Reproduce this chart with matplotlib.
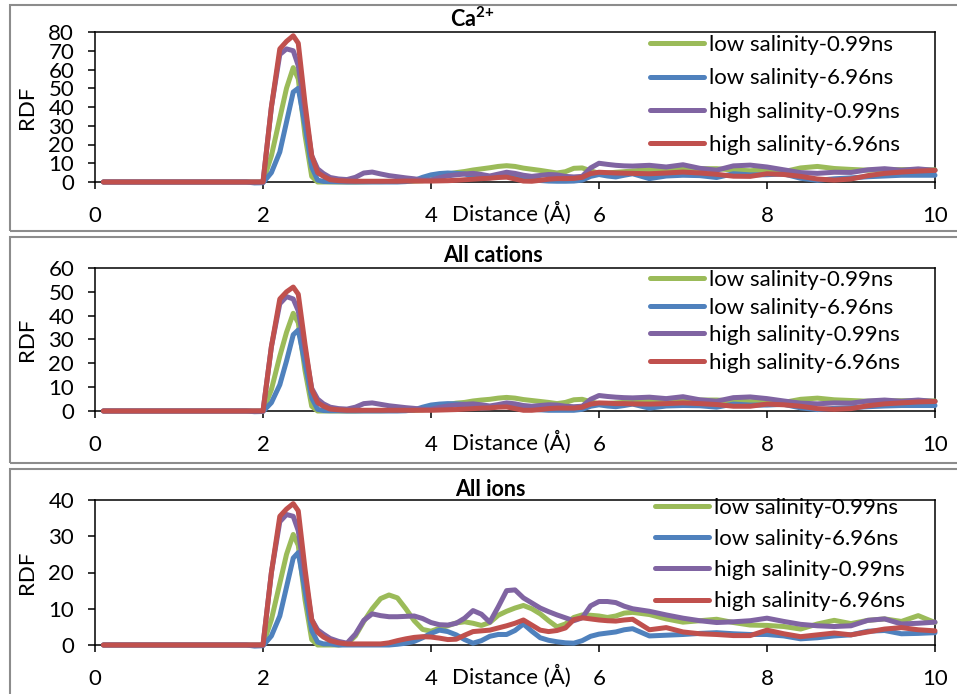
import matplotlib
matplotlib.use('Agg')
import matplotlib.pyplot as plt
from matplotlib.patches import Rectangle
import matplotlib.transforms as mtransforms

plt.rcParams['font.family'] = ['Lato', 'DejaVu Sans']
plt.rcParams['mathtext.fontset'] = 'custom'
plt.rcParams['mathtext.rm'] = 'Lato'
plt.rcParams['mathtext.bf'] = 'Lato:bold'

# ---------------- data ----------------
distance = [0.1, 0.5, 1.0, 1.5, 1.8, 1.9, 2.0, 2.1, 2.2, 2.28, 2.36, 2.42, 2.5, 2.58, 2.65, 2.72,
            2.8, 2.9, 3.0, 3.1, 3.2, 3.3, 3.4, 3.5, 3.6, 3.7, 3.8, 3.9, 4.0, 4.1, 4.2, 4.3, 4.4,
            4.5, 4.6, 4.7, 4.8, 4.9, 5.0, 5.1, 5.2, 5.3, 5.4, 5.5, 5.6, 5.7, 5.8, 5.9, 6.0, 6.1,
            6.2, 6.3, 6.4,
            6.6, 6.8, 7.0, 7.2, 7.4, 7.6, 7.8, 8.0, 8.2, 8.4, 8.6, 8.8, 9.0, 9.2, 9.4, 9.6, 9.8, 10.0]

series_labels = ['low salinity-0.99ns', 'low salinity-6.96ns',
                 'high salinity-0.99ns', 'high salinity-6.96ns']

# Ca2+
ca_low_099 = [0, 0, 0, 0, 0, 0, 0, 14, 34, 50, 61, 55, 25, 3, 0, 0,
              0, 0, 0, 0, 0.1, 0.2, 0.2, 0.3, 0.3, 0.4, 0.5, 0.7, 1.2, 2.8, 4.2, 5.0, 5.6, 6.4, 7.0,
              7.6, 8.3, 8.7, 8.3, 7.4, 6.8, 6.2, 5.5, 4.8, 5.5, 7.3, 7.5, 6.0, 4.6, 4.8, 5.2, 5.5, 5.9,
              6.6, 6.9, 7.1, 7.1, 7.1, 6.4, 6.0, 6.6, 5.5, 7.5, 8.3, 7.2, 6.7, 6.3, 6.4, 6.6, 6.6, 6.5]
ca_low_696 = [0, 0, 0, 0, 0, -0.5, -0.4, 5, 16, 32, 48, 50, 30, 8, 1, 0.3,
              0.2, 0.1, 0, 0, 0, 0, 0, 0, 0, 0.2, 0.8, 2.5, 3.8, 4.5, 4.8, 4.6, 4.3, 3.0, 1.8, 2.2,
              3.0, 3.6, 3.0, 2.0, 1.2, 0.8, 0.5, 0.4, 0.4, 0.5, 1.0, 3.0, 4.0, 3.2, 2.7, 3.6, 4.4,
              1.8, 3.2, 3.6, 3.4, 2.4, 4.4, 3.8, 3.9, 4.3, 2.0, 0.9, 1.7, 2.2, 2.8, 3.2, 3.6, 3.6, 3.6]
ca_high_099 = [0, 0, 0, 0, 0, 0, 0, 40, 68, 71, 70, 62, 38, 14, 7, 4.5,
               2.4, 1.6, 1.3, 2.5, 4.8, 5.3, 4.3, 3.4, 2.8, 2.2, 1.7, 1.0, 1.0, 2.3, 3.3, 3.8, 4.3,
               4.6, 4.0, 3.2, 4.2, 5.2, 4.6, 3.6, 3.0, 3.5, 4.0, 3.8, 3.0, 2.7, 3.0, 7.5, 10.0, 9.4,
               8.9, 8.6, 8.5,
               8.9, 8.0, 9.2, 7.3, 6.3, 8.6, 9.0, 8.0, 6.5, 5.0, 4.6, 5.2, 5.1, 6.5, 7.1, 6.3, 7.0, 6.2]
ca_high_696 = [0, 0, 0, 0, 0, 0, 0, 40, 71, 75, 78, 74, 42, 14, 5, 3,
               1.2, 0.7, 0.5, 0.4, 0.4, 0.4, 0.4, 0.4, 0.4, 0.5, 0.5, 0.5, 0.5, 0.6, 0.7, 0.9, 1.2,
               1.5, 1.8, 2.0, 2.4, 2.6, 1.6, 0.5, 0.4, 0.9, 1.5, 1.8, 1.8, 1.9, 2.5, 4.5, 5.2, 5.0,
               4.8, 4.7, 4.6,
               4.4, 4.8, 5.3, 4.8, 4.1, 3.1, 3.0, 4.4, 4.0, 3.0, 1.6, 1.0, 1.6, 3.4, 4.6, 5.3, 5.8, 6.2]

# All cations
cat_low_099 = [0, 0, 0, 0, 0, 0, 0, 9, 23, 33, 41, 37, 17, 2, 0, 0,
               0, 0, 0, 0, 0.1, 0.1, 0.1, 0.2, 0.2, 0.3, 0.3, 0.5, 0.8, 1.8, 2.7, 3.3, 3.6, 4.2,
               4.6, 4.9, 5.4, 5.7, 5.4, 4.8, 4.4, 4.0, 3.6, 3.1, 3.6, 4.7, 4.9, 3.9, 3.0, 3.1, 3.4,
               3.6, 3.8,
               4.3, 4.5, 4.6, 4.6, 4.6, 4.2, 3.9, 4.3, 3.6, 4.9, 5.4, 4.7, 4.4, 4.1, 4.2, 4.3, 4.3, 4.2]
cat_low_696 = [0, 0, 0, 0, 0, -0.3, -0.2, 3.5, 11, 21, 32, 34, 20, 5.5, 0.7, 0.2,
               0.1, 0.1, 0, 0, 0, 0, 0, 0, 0, 0.1, 0.5, 1.6, 2.5, 2.9, 3.1, 3.0, 2.8, 2.0, 1.2, 1.4,
               2.0, 2.3, 2.0, 1.3, 0.8, 0.5, 0.3, 0.3, 0.3, 0.3, 0.7, 2.0, 2.6, 2.1, 1.8, 2.3, 2.9,
               1.2, 2.1, 2.3, 2.2, 1.6, 2.9, 2.5, 2.5, 2.8, 1.3, 0.6, 1.1, 1.4, 1.8, 2.1, 2.3, 2.3, 2.3]
cat_high_099 = [0, 0, 0, 0, 0, 0, 0, 27, 45, 48, 47, 42, 26, 9.5, 5, 3,
                1.6, 1.0, 0.8, 1.6, 3.1, 3.4, 2.8, 2.2, 1.8, 1.4, 1.1, 0.7, 0.7, 1.5, 2.1, 2.5, 2.8,
                3.0, 2.6, 2.1, 2.7, 3.4, 3.0, 2.3, 2.0, 2.3, 2.6, 2.5, 2.0, 1.8, 2.0, 4.9, 6.5, 6.1,
                5.8, 5.6, 5.5,
                5.8, 5.2, 6.0, 4.7, 4.1, 5.6, 5.9, 5.2, 4.2, 3.3, 3.0, 3.4, 3.3, 4.2, 4.6, 4.1, 4.6, 4.0]
cat_high_696 = [0, 0, 0, 0, 0, 0, 0, 27, 47, 50, 52, 49, 28, 9, 3.5, 2,
                0.8, 0.5, 0.3, 0.3, 0.3, 0.3, 0.3, 0.3, 0.3, 0.3, 0.3, 0.3, 0.3, 0.4, 0.5, 0.6, 0.8,
                1.0, 1.2, 1.3, 1.6, 1.7, 1.0, 0.3, 0.3, 0.6, 1.0, 1.2, 1.2, 1.2, 1.6, 2.9, 3.4, 3.3,
                3.1, 3.1, 3.0,
                2.9, 3.1, 3.4, 3.1, 2.7, 2.0, 2.0, 2.9, 2.6, 2.0, 1.0, 0.7, 1.0, 2.2, 3.0, 3.4, 3.8, 4.0]

# All ions
ion_low_099 = [0, 0, 0, 0, 0, 0, 0, 7, 17, 25, 30.5, 27.5, 12.5, 1.5, 0, 0,
               0, 0, 0.3, 2.5, 6.5, 10.0, 12.8, 13.8, 13.0, 10.0, 6.7, 4.3, 3.8, 4.6, 5.3, 6.1, 6.4,
               6.0, 5.4, 6.2, 8.2, 9.3, 10.2, 10.9, 10.0, 8.6, 6.7, 5.0, 5.8, 7.6, 8.3, 8.2, 8.0, 7.6,
               8.0, 8.8, 9.0,
               8.4, 7.2, 6.3, 6.7, 7.1, 6.2, 5.5, 5.4, 5.1, 4.4, 5.8, 6.8, 5.9, 6.8, 7.2, 6.5, 8.1, 6.2]
ion_low_696 = [0, 0, 0, 0, 0, -0.3, -0.2, 2.5, 8, 16, 24, 25.5, 15, 4, 0.8, 0.3,
               0.3, 0, 0, 0, 0, 0, 0, 0, 0.2, 0.5, 1.0, 2.0, 3.2, 4.1, 3.7, 2.8, 1.5, 0.5, 1.2, 2.4,
               2.9, 2.9, 4.0, 5.8, 3.8, 2.0, 1.3, 0.9, 0.6, 0.5, 1.2, 2.4, 3.0, 3.3, 3.6, 4.2, 4.5,
               2.5, 2.7, 2.9, 3.2, 3.4, 3.1, 2.9, 2.9, 2.5, 1.7, 2.0, 2.5, 2.8, 3.8, 4.0, 3.1, 3.2, 3.4]
ion_high_099 = [0, 0, 0, 0, 0, 0, 0, 20, 34, 36, 35.5, 31.5, 19, 7, 4.2, 3,
                1.8, 1.0, 0.5, 3.0, 6.8, 8.6, 8.1, 7.8, 7.8, 7.9, 8.0, 7.3, 6.2, 5.6, 5.5, 6.0, 7.4,
                9.5, 8.5, 6.3, 10.5, 15.0, 15.2, 13.0, 11.6, 10.2, 9.2, 8.3, 7.5, 6.7, 7.5, 10.8, 12.0,
                12.0, 11.7, 10.7, 10.0,
                9.3, 8.3, 7.4, 6.7, 6.2, 6.4, 6.7, 7.4, 6.5, 5.7, 5.3, 5.1, 5.3, 6.8, 7.2, 5.8, 6.0, 6.3]
ion_high_696 = [0, 0, 0, 0, 0, 0, 0, 20, 35.5, 37.5, 39, 37, 21, 7, 3.5, 2.2,
                1.2, 0.6, 0.3, 0.3, 0.3, 0.3, 0.3, 0.6, 1.2, 1.7, 2.1, 2.3, 2.2, 1.9, 1.5, 1.6, 2.7,
                3.7, 3.9, 4.1, 4.7, 5.3, 6.0, 6.9, 5.5, 4.1, 3.7, 4.0, 4.7, 7.0, 7.5, 7.2, 6.9, 6.7,
                6.6, 6.9, 7.1,
                4.2, 4.8, 3.6, 3.1, 2.9, 2.6, 2.6, 4.1, 3.1, 2.3, 2.8, 3.3, 2.8, 3.6, 4.4, 4.8, 4.2, 3.9]

panel_titles = [r'$\mathbf{Ca}^{\mathbf{2{+}}}$', 'All cations', 'All ions']
y_maxes = [80, 60, 40]
y_ticks = [list(range(0, 81, 10)), list(range(0, 61, 10)), list(range(0, 41, 10))]
x_ticks = [0, 2, 4, 6, 8, 10]

# ---------------- style ----------------
colors = ['#9BBB59', '#4F81BD', '#8064A2', '#C0504D']
W, H = 957, 694
fig = plt.figure(figsize=(W / 100, H / 100), dpi=100)

# chart-area borders (px: left, top, bottom)
borders = [(10, 5, 231), (10, 237, 463), (10, 469, 702)]
for (l, t, b) in borders:
    fig.patches.append(Rectangle((l / W, 1 - b / H), (980 - l) / W, (b - t) / H,
                                 transform=fig.transFigure, fill=False,
                                 edgecolor='#8c8c8c', lw=1.5, clip_on=False))

# plot areas (px: left, top, right, bottom)
plot_boxes = [(95, 32, 935, 182), (95, 268, 935, 411), (95, 500, 935, 645)]
title_pos = [(472, 19), (493, 256), (490, 489)]
legend_anchor = [(650, 35), (650, 270), (655, 498)]
legend_spacing = [0.6, 0.34, 0.5]

data = [
    [ca_low_099, ca_low_696, ca_high_099, ca_high_696],
    [cat_low_099, cat_low_696, cat_high_099, cat_high_696],
    [ion_low_099, ion_low_696, ion_high_099, ion_high_696],
]

fs = 16
for i in range(3):
    l, t, r, b = plot_boxes[i]
    ax = fig.add_axes([l / W, 1 - b / H, (r - l) / W, (b - t) / H])
    for s in range(4):
        ax.plot(distance, data[i][s], color=colors[s], lw=3.6, label=series_labels[s],
                solid_joinstyle='round', solid_capstyle='round', clip_on=False, zorder=3 + s)
    ax.set_xlim(0, 10)
    ax.set_ylim(0, y_maxes[i])
    ax.set_xticks(x_ticks)
    ax.set_yticks(y_ticks[i])
    ax.tick_params(axis='x', direction='out', length=5, width=1.1, pad=12, labelsize=fs)
    ax.tick_params(axis='y', direction='out', length=5, width=1.1, pad=10, labelsize=fs)
    for sp in ax.spines.values():
        sp.set_linewidth(1.1)
        sp.set_color('black')
    ax.set_ylabel('RDF', fontsize=fs, labelpad=2)
    ax.yaxis.set_label_coords(-0.069, 0.5)
    trans = mtransforms.blended_transform_factory(ax.transData, ax.transAxes)
    ax.text(4.25, -31 / (b - t), 'Distance (Å)', transform=trans, fontsize=fs,
            ha='left', va='center')
    # title
    tx, ty = title_pos[i]
    fig.text(tx / W, 1 - ty / H, panel_titles[i], fontsize=15.5, fontweight='bold',
             ha='center', va='center')
    ax_, ay_ = legend_anchor[i]
    ax.legend(loc='upper left', bbox_to_anchor=(ax_ / W, 1 - ay_ / H),
              bbox_transform=fig.transFigure, frameon=False, fontsize=fs,
              borderpad=0, borderaxespad=0, handlelength=2.45, handletextpad=0.2,
              labelspacing=legend_spacing[i])

fig.savefig('out.png', dpi=100)
